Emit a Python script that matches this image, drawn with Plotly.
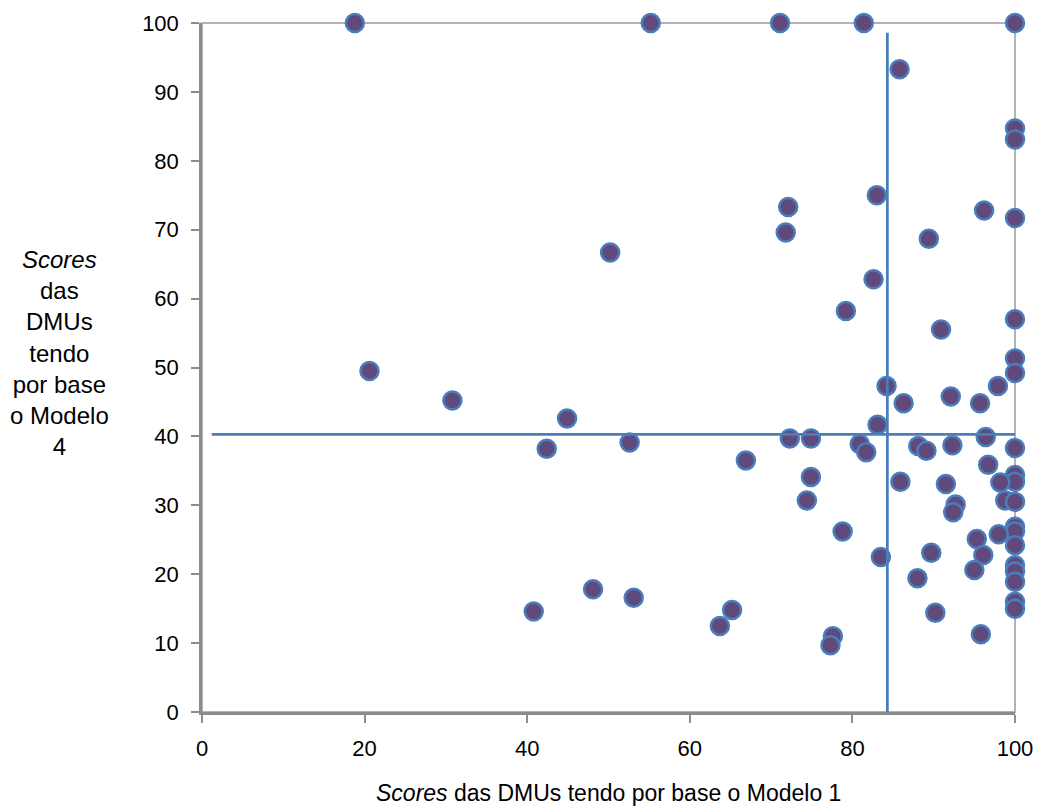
import plotly.graph_objects as go

# Scores (Modelo 1 on x, Modelo 4 on y)
modelo1 = [18.8, 55.2, 71.1, 81.4, 100,
           85.8, 100, 100, 83.0, 72.1, 96.2, 100, 71.8, 89.4, 50.2, 82.6,
           79.2, 100, 90.9, 100, 20.6, 100, 84.2, 97.9, 30.8, 92.1, 86.3, 95.7,
           44.9, 83.1, 96.4, 72.3, 74.9, 52.6, 80.9, 92.3, 88.1, 100, 42.4,
           89.1, 81.7, 66.9, 96.7, 100, 74.9, 85.9, 100, 98.2, 91.5, 74.4,
           98.8, 100, 92.7, 92.4, 100, 100, 78.8, 98.0, 95.3, 100, 89.7, 96.1,
           83.5, 100, 95.0, 100, 88.0, 100, 48.1, 53.1, 100, 100, 65.2, 40.8,
           90.2, 63.7, 95.8, 77.6, 77.3]
modelo4 = [100, 100, 100, 100, 100,
           93.3, 84.7, 83.1, 75.0, 73.3, 72.8, 71.7, 69.6, 68.7, 66.7, 62.8,
           58.2, 57.0, 55.5, 51.3, 49.5, 49.2, 47.3, 47.3, 45.2, 45.8, 44.8, 44.8,
           42.6, 41.7, 39.9, 39.7, 39.7, 39.1, 38.9, 38.7, 38.6, 38.3, 38.2,
           37.9, 37.7, 36.5, 35.9, 34.4, 34.1, 33.4, 33.4, 33.3, 33.1, 30.7,
           30.7, 30.5, 30.1, 29.0, 26.9, 26.2, 26.2, 25.8, 25.1, 24.2, 23.1, 22.8,
           22.5, 21.3, 20.6, 20.4, 19.4, 18.9, 17.8, 16.6, 16.0, 15.0, 14.8, 14.6,
           14.4, 12.5, 11.3, 11.0, 9.7]

# Reference (mean) lines
hline_x = [1.2, 100]
hline_y = [40.3, 40.3]
vline_x = [84.3, 84.3]
vline_y = [-0.7, 98.6]

x_ticks = [0, 20, 40, 60, 80, 100]
y_ticks = [0, 10, 20, 30, 40, 50, 60, 70, 80, 90, 100]

FONT = "Liberation Sans, Arial, sans-serif"

fig = go.Figure()
fig.add_trace(go.Scatter(
    x=modelo1, y=modelo4, mode="markers", cliponaxis=False,
    marker=dict(size=18, color="#5f4a7b", line=dict(color="#4a7ebb", width=2.5)),
    showlegend=False))
fig.add_trace(go.Scatter(x=hline_x, y=hline_y, mode="lines", cliponaxis=False,
                         line=dict(color="#4a7ebb", width=2.75), showlegend=False))
fig.add_trace(go.Scatter(x=vline_x, y=vline_y, mode="lines", cliponaxis=False,
                         line=dict(color="#4a7ebb", width=2.75), showlegend=False))

axis_common = dict(showgrid=False, zeroline=False, showline=True, automargin=False,
                   linecolor="#8c8c8c", linewidth=2.5, ticks="outside",
                   ticklen=8, tickwidth=2, tickcolor="#8c8c8c",
                   tickfont=dict(family=FONT, size=22, color="#000000"))

fig.update_xaxes(range=[0, 100], tickvals=x_ticks, ticktext=[str(v) for v in x_ticks],
                 ticklabelstandoff=7, **axis_common)
fig.update_yaxes(range=[0, 100], tickvals=y_ticks, ticktext=[str(v) for v in y_ticks],
                 ticklabelstandoff=8, **axis_common)

# light plot-area border (top/right)
fig.add_shape(type="rect", xref="x domain", yref="y domain", x0=0, x1=1, y0=0, y1=1,
              line=dict(color="#b3b3b3", width=2), layer="below")

fig.add_annotation(text="<i>Scores</i> das DMUs tendo por base o Modelo 1",
                   xref="paper", yref="paper", x=0.5, y=0, xanchor="center",
                   yanchor="middle", yshift=-81, showarrow=False,
                   font=dict(family=FONT, size=23, color="#000000"))
fig.add_annotation(text="<i>Scores</i><br>das<br>DMUs<br>tendo<br>por base<br>o Modelo<br>4",
                   xref="paper", yref="paper", x=0, y=0.5, xanchor="center",
                   yanchor="middle", xshift=-143, yshift=15, showarrow=False,
                   align="center", font=dict(family=FONT, size=24, color="#000000"))

fig.update_layout(width=1038, height=808, margin=dict(l=202, r=23, t=23, b=96),
                  plot_bgcolor="white", paper_bgcolor="white")

fig.write_html("out.html")
